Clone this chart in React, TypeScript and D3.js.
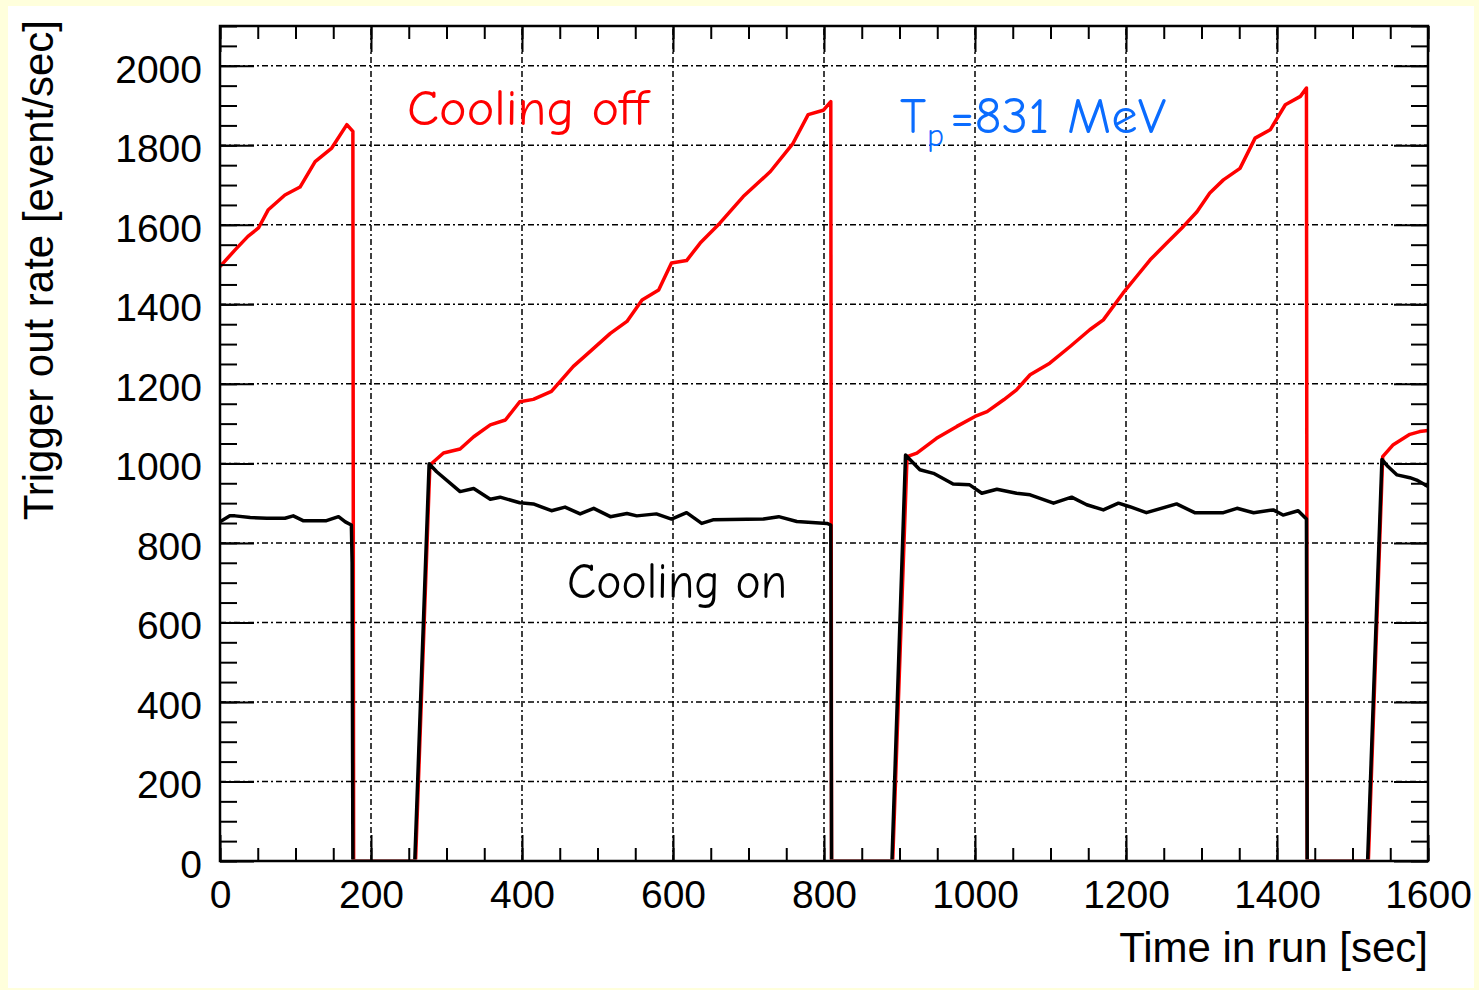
import React, { useEffect, useRef } from "react";
import * as d3 from "d3";

// trigger rate vs time, [time sec, rate event/sec]
const coolingOff: [number, number][] = [
	[0, 1495], [20, 1537], [37, 1571], [51, 1592], [64, 1638], [86, 1675], [106, 1695],
	[126, 1759], [148, 1793], [168, 1852], [176, 1835], [177, 0], [259, 0],
	[278, 996], [296, 1026], [318, 1036], [336, 1067], [358, 1097], [378, 1109], [397, 1155],
	[415, 1161], [439, 1181], [468, 1244], [490, 1281], [517, 1327], [539, 1357], [559, 1411],
	[581, 1436], [598, 1504], [618, 1510], [636, 1554], [662, 1604], [693, 1671], [729, 1734],
	[759, 1805], [779, 1877], [799, 1888], [809, 1910], [810, 0], [891, 0],
	[910, 1017], [923, 1026], [949, 1063], [976, 1093], [1000, 1118], [1016, 1130], [1038, 1160],
	[1055, 1185], [1073, 1223], [1099, 1252], [1126, 1294], [1152, 1336], [1170, 1361],
	[1196, 1428], [1214, 1470], [1232, 1512], [1254, 1554], [1276, 1596], [1294, 1633],
	[1311, 1680], [1329, 1713], [1351, 1742], [1371, 1818], [1391, 1839], [1411, 1902],
	[1431, 1923], [1439, 1944], [1440, 0], [1521, 0],
	[1540, 1017], [1554, 1047], [1576, 1073], [1589, 1080], [1600, 1083],
];

const coolingOn: [number, number][] = [
	[0, 853], [13, 868], [20, 868], [40, 864], [62, 862], [86, 862], [97, 868], [110, 856],
	[141, 856], [157, 866], [166, 853], [174, 845], [175, 750], [176, 0], [258, 0],
	[277, 999], [287, 979], [318, 929], [336, 937], [358, 910], [371, 915], [397, 901],
	[415, 898], [439, 881], [457, 890], [477, 873], [495, 887], [517, 866], [539, 874],
	[552, 868], [578, 873], [598, 860], [618, 876], [638, 849], [653, 858], [720, 860],
	[740, 866], [764, 854], [804, 849], [809, 845], [810, 0], [890, 0],
	[908, 1021], [927, 984], [945, 975], [971, 948], [993, 946], [1009, 925], [1029, 935],
	[1055, 925], [1073, 921], [1104, 900], [1128, 915], [1148, 896], [1170, 883], [1190, 900],
	[1205, 891], [1227, 876], [1267, 898], [1291, 876], [1329, 876], [1347, 887], [1369, 876],
	[1395, 883], [1408, 870], [1428, 881], [1439, 860], [1440, 0], [1520, 0],
	[1539, 1010], [1547, 992], [1559, 971], [1576, 964], [1585, 958], [1596, 946], [1600, 942],
];

const xMajor = [0, 200, 400, 600, 800, 1000, 1200, 1400, 1600];
const yMajor = [0, 200, 400, 600, 800, 1000, 1200, 1400, 1600, 1800, 2000];

const W = 1479;
const H = 990;
const helv = "'Liberation Sans', Arial, Helvetica, sans-serif";
const comic = "'Comic Sans MS', 'Comic Neue', 'Open Sans', sans-serif";

export default function App() {
	const ref = useRef<SVGSVGElement>(null);

	useEffect(() => {
		const svg = d3.select(ref.current);
		svg.selectAll("*").remove();

		const left = 220;
		const right = 1428;
		const top = 26;
		const bottom = 861;

		// Scales
		const x = d3.scaleLinear().domain([0, 1600]).range([left, right]);
		const y = d3.scaleLinear().domain([0, 2100]).range([bottom, top]);

		// Page
		svg.append("rect").attr("width", W).attr("height", H).attr("fill", "#FFFFDC");
		svg.append("rect").attr("x", 8).attr("y", 6).attr("width", 1466).attr("height", 982).attr("fill", "#fff");

		// Grid
		const grid = svg.append("g")
			.attr("stroke", "#000")
			.attr("stroke-width", 1.5)
			.attr("stroke-dasharray", "6,3,2,3");
		grid.selectAll(".gx")
			.data(xMajor.filter(d => d > 0 && d < 1600))
			.enter()
			.append("line")
			.attr("x1", d => x(d)).attr("x2", d => x(d))
			.attr("y1", bottom).attr("y2", top);
		grid.selectAll(".gy")
			.data(yMajor.filter(d => d > 0))
			.enter()
			.append("line")
			.attr("y1", d => y(d)).attr("y2", d => y(d))
			.attr("x1", left).attr("x2", right);

		// Data (zero runs hide under the frame)
		svg.append("clipPath").attr("id", "plot")
			.append("rect").attr("x", left).attr("y", top)
			.attr("width", right - left).attr("height", bottom - top - 1.5);

		const line = d3.line<[number, number]>()
			.x(d => x(d[0]))
			.y(d => y(d[1]));

		svg.append("path")
			.datum(coolingOff)
			.attr("clip-path", "url(#plot)")
			.attr("fill", "none")
			.attr("stroke", "#FF0000")
			.attr("stroke-width", 3.5)
			.attr("stroke-linejoin", "round")
			.attr("d", line);

		svg.append("path")
			.datum(coolingOn)
			.attr("clip-path", "url(#plot)")
			.attr("fill", "none")
			.attr("stroke", "#000")
			.attr("stroke-width", 3.5)
			.attr("stroke-linejoin", "round")
			.attr("d", line);

		// Frame
		svg.append("rect")
			.attr("x", left).attr("y", top)
			.attr("width", right - left).attr("height", bottom - top)
			.attr("fill", "none").attr("stroke", "#000").attr("stroke-width", 2.5);

		// Axes: minor ticks every 50, major with labels
		const xMinor = d3.range(0, 1601, 50);
		const yMinor = d3.range(0, 2101, 50);

		const addAxis = (axis: d3.Axis<d3.NumberValue>, tx: number, ty: number) => {
			const g = svg.append("g").attr("transform", `translate(${tx},${ty})`).call(axis);
			g.select(".domain").remove();
			g.selectAll("line").attr("stroke", "#000").attr("stroke-width", 2);
			g.selectAll("text")
				.attr("font-family", helv)
				.attr("font-size", 39)
				.attr("fill", "#000");
			return g;
		};

		addAxis(d3.axisBottom(x).tickValues(xMinor).tickSize(-13).tickFormat(() => ""), 0, bottom);
		addAxis(d3.axisTop(x).tickValues(xMinor).tickSize(-13).tickFormat(() => ""), 0, top);
		addAxis(d3.axisBottom(x).tickValues(xMajor).tickSize(-26).tickPadding(19).tickFormat(d3.format("d")), 0, bottom);
		addAxis(d3.axisTop(x).tickValues(xMajor).tickSize(-26).tickFormat(() => ""), 0, top);

		addAxis(d3.axisLeft(y).tickValues(yMinor).tickSize(-17).tickFormat(() => ""), left, 0);
		addAxis(d3.axisRight(y).tickValues(yMinor).tickSize(-17).tickFormat(() => ""), right, 0);
		const yg = addAxis(d3.axisLeft(y).tickValues(yMajor).tickSize(-34).tickPadding(18).tickFormat(d3.format("d")), left, 0);
		yg.selectAll("text").attr("dy", "0.42em");
		addAxis(d3.axisRight(y).tickValues(yMajor).tickSize(-34).tickFormat(() => ""), right, 0);

		// Axis titles
		svg.append("text")
			.attr("x", right)
			.attr("y", 962)
			.attr("text-anchor", "end")
			.attr("font-family", helv)
			.attr("font-size", 42)
			.text("Time in run [sec]");

		svg.append("text")
			.attr("transform", "rotate(-90)")
			.attr("x", -20)
			.attr("y", 53)
			.attr("text-anchor", "end")
			.attr("font-family", helv)
			.attr("font-size", 42)
			.text("Trigger out rate [event/sec]");

		// Annotations
		svg.append("text")
			.attr("x", 407).attr("y", 125)
			.attr("font-family", comic)
			.attr("font-size", 50)
			.attr("fill", "#FF0000")
			.attr("textLength", 241)
			.attr("lengthAdjust", "spacingAndGlyphs")
			.text("Cooling off");

		svg.append("text")
			.attr("x", 567).attr("y", 598)
			.attr("font-family", comic)
			.attr("font-size", 50)
			.attr("fill", "#000")
			.attr("textLength", 220)
			.attr("lengthAdjust", "spacingAndGlyphs")
			.text("Cooling on");

		const tp = svg.append("text")
			.attr("font-family", comic)
			.attr("font-size", 50)
			.attr("fill", "#0A6CFF");
		tp.append("tspan").attr("x", 900).attr("y", 133).text("T");
		tp.append("tspan").attr("x", 927).attr("y", 146).attr("font-size", 32).text("p");
		tp.append("tspan").attr("x", 950).attr("y", 133)
			.attr("textLength", 216)
			.attr("lengthAdjust", "spacingAndGlyphs")
			.text("=831 MeV");
	}, []);

	return (
		<svg
			ref={ref}
			width={W}
			height={H}
			style={{ position: "absolute", left: 0, top: 0, display: "block" }}
		/>
	);
}
